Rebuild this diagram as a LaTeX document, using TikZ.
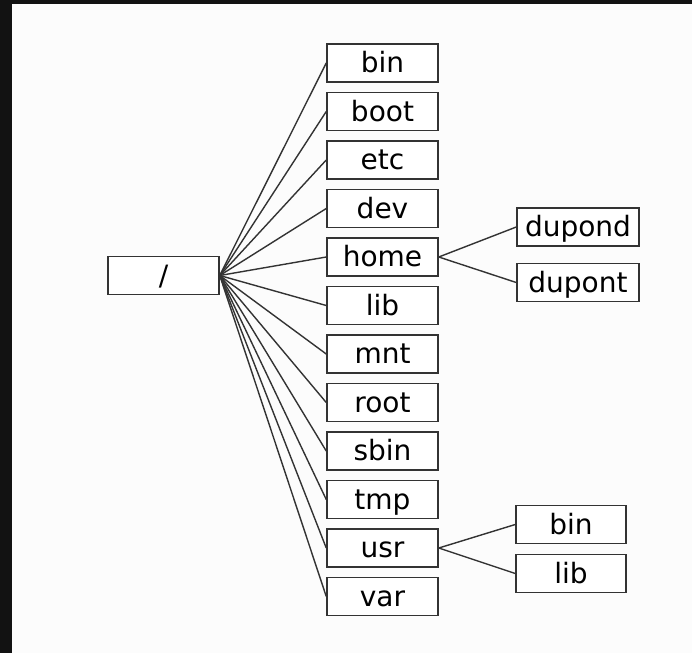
\documentclass[tikz,border=0pt]{standalone}
\usepackage{fontspec}
\setmainfont{DejaVu Sans}
\begin{document}
\begin{tikzpicture}[x=1pt,y=-1pt,
  box/.style={draw=black!80, line width=1.5pt, minimum height=38pt, inner sep=0pt,
    text height=21pt, text depth=2pt, font=\fontsize{28}{32}\selectfont, fill=white},
  link/.style={draw=black!80, line width=1.4pt}]
\useasboundingbox (0,0) rectangle (692,653);
\fill[black!93] (0,0) rectangle (692,653);
\fill[black!1] (12,4) rectangle (692,653);
\node[box, minimum width=111pt] (root) at (163.5,275.5) {/};
\foreach \n/\t [count=\i from 0] in {bin/bin,boot/boot,etc/etc,dev/dev,home/home,lib/lib,mnt/mnt,root2/root,sbin/sbin,tmp/tmp,usr/usr,var/var}{
  \node[box, minimum width=111pt] (\n) at (382.5,63+\i*48.5) {\t};
}
\node[box, minimum width=122pt] (dupond) at (578,227) {dupond};
\node[box, minimum width=122pt] (dupont) at (578,282.5) {dupont};
\node[box, minimum width=110pt] (ubin) at (571,524.5) {bin};
\node[box, minimum width=110pt] (ulib) at (571,573.5) {lib};
\foreach \n in {bin,boot,etc,dev,home,lib,mnt,root2,sbin,tmp,usr,var}{
  \draw[link] (root.east) -- (\n.west);
}
\draw[link] (home.east) -- (dupond.west);
\draw[link] (home.east) -- (dupont.west);
\draw[link] (usr.east) -- (ubin.west);
\draw[link] (usr.east) -- (ulib.west);
\end{tikzpicture}
\end{document}
